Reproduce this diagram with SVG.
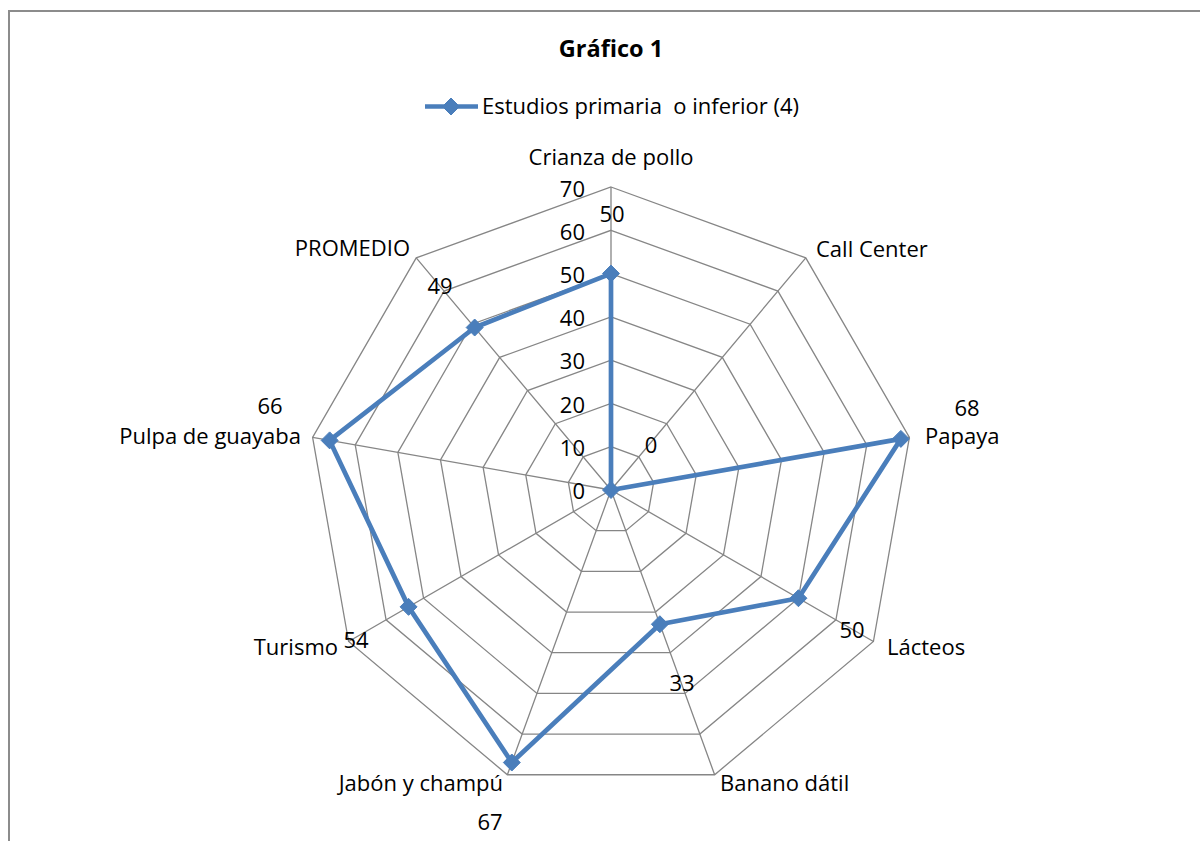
<svg xmlns="http://www.w3.org/2000/svg" xmlns:xlink="http://www.w3.org/1999/xlink" width="1200" height="841" viewBox="0 0 1200 841">
<style>
.frame{fill:none;stroke:#8c8c8c;stroke-width:2}
.grid{fill:none;stroke:#868686;stroke-width:1.3}
.series{fill:none;stroke:#4a7ebb;stroke-width:4.7;stroke-linejoin:round}
.mk{fill:#4a7ebb;stroke:#4a7ebb;stroke-width:1}
text{font-family:"Open Sans","Liberation Sans",sans-serif;font-size:22px;fill:#000}
.title{font-weight:bold;font-size:23.5px}
.tick{text-anchor:end}
.mid{text-anchor:middle}
.end{text-anchor:end}
</style>
<defs>
<path id="dia" class="mk" d="M0,-8.5 L8.5,0 L0,8.5 L-8.5,0 Z"/>
</defs>
<rect width="1200" height="841" fill="#fff"/>
<g id="frame">
<polyline class="frame" points="9,841 9,11 1200,11"/>
</g>
<g id="title"><text class="title mid" x="611" y="57">Gráfico 1</text></g>
<g id="legend">
<line x1="425" y1="106.5" x2="478" y2="106.5" stroke="#4a7ebb" stroke-width="4.7"/>
<use xlink:href="#dia" x="451" y="106.5"/>
<text x="482" y="114" xml:space="preserve">Estudios primaria  o inferior (4)</text>
</g>
<g id="grid">
<polygon class="grid" points="611,446.71 638.82,456.84 653.63,482.48 648.49,511.64 625.80,530.68 596.20,530.68 573.51,511.64 568.37,482.48 583.18,456.84"/>
<polygon class="grid" points="611,403.43 666.65,423.68 696.26,474.97 685.97,533.29 640.61,571.35 581.39,571.35 536.03,533.29 525.74,474.97 555.35,423.68"/>
<polygon class="grid" points="611,360.14 694.47,390.52 738.88,467.45 723.46,554.93 655.41,612.03 566.59,612.03 498.54,554.93 483.12,467.45 527.53,390.52"/>
<polygon class="grid" points="611,316.86 722.29,357.37 781.51,459.93 760.95,576.57 670.22,652.70 551.78,652.70 461.05,576.57 440.49,459.93 499.71,357.37"/>
<polygon class="grid" points="611,273.57 750.12,324.21 824.14,452.42 798.43,598.21 685.02,693.38 536.98,693.38 423.57,598.21 397.86,452.42 471.88,324.21"/>
<polygon class="grid" points="611,230.29 777.94,291.05 866.77,444.90 835.92,619.86 699.83,734.05 522.17,734.05 386.08,619.86 355.23,444.90 444.06,291.05"/>
<polygon class="grid" points="611,187 805.77,257.89 909.40,437.39 873.41,641.50 714.63,774.73 507.37,774.73 348.59,641.50 312.60,437.39 416.23,257.89"/>
<path class="grid" d="M611,490 L611,187 M611,490 L805.77,257.89 M611,490 L909.40,437.39 M611,490 L873.41,641.50 M611,490 L714.63,774.73 M611,490 L507.37,774.73 M611,490 L348.59,641.50 M611,490 L312.60,437.39 M611,490 L416.23,257.89"/>
</g>
<g id="ticks">
<text class="tick" x="585" y="499">0</text>
<text class="tick" x="585" y="456">10</text>
<text class="tick" x="585" y="413">20</text>
<text class="tick" x="585" y="369">30</text>
<text class="tick" x="585" y="326">40</text>
<text class="tick" x="585" y="283">50</text>
<text class="tick" x="585" y="240">60</text>
<text class="tick" x="585" y="197">70</text>
</g>
<g id="connectors">
<polygon class="series" points="611,273.57 611,490 900.87,438.89 798.43,598.21 659.86,624.23 511.81,762.52 408.57,606.87 329.65,440.39 474.67,327.52"/>
</g>
<g id="markers">
<use xlink:href="#dia" x="611" y="273.57"/>
<use xlink:href="#dia" x="611" y="490"/>
<use xlink:href="#dia" x="900.87" y="438.89"/>
<use xlink:href="#dia" x="798.43" y="598.21"/>
<use xlink:href="#dia" x="659.86" y="624.23"/>
<use xlink:href="#dia" x="511.81" y="762.52"/>
<use xlink:href="#dia" x="408.57" y="606.87"/>
<use xlink:href="#dia" x="329.65" y="440.39"/>
<use xlink:href="#dia" x="474.67" y="327.52"/>
</g>
<g id="data-labels">
<text class="mid" x="612" y="222">50</text>
<text class="mid" x="651" y="453">0</text>
<text class="mid" x="967" y="416">68</text>
<text class="mid" x="852" y="638">50</text>
<text class="mid" x="682" y="691">33</text>
<text class="mid" x="490" y="830">67</text>
<text class="mid" x="356" y="648">54</text>
<text class="mid" x="270" y="414">66</text>
<text class="mid" x="440" y="294">49</text>
</g>
<g id="categories">
<text class="mid" x="611" y="165">Crianza de pollo</text>
<text x="816" y="257">Call Center</text>
<text x="925" y="444">Papaya</text>
<text x="887" y="655">Lácteos</text>
<text x="720" y="791">Banano dátil</text>
<text class="end" x="503" y="791">Jabón y champú</text>
<text class="end" x="338" y="655">Turismo</text>
<text class="end" x="301" y="444">Pulpa de guayaba</text>
<text class="end" x="410" y="256">PROMEDIO</text>
</g>
</svg>
